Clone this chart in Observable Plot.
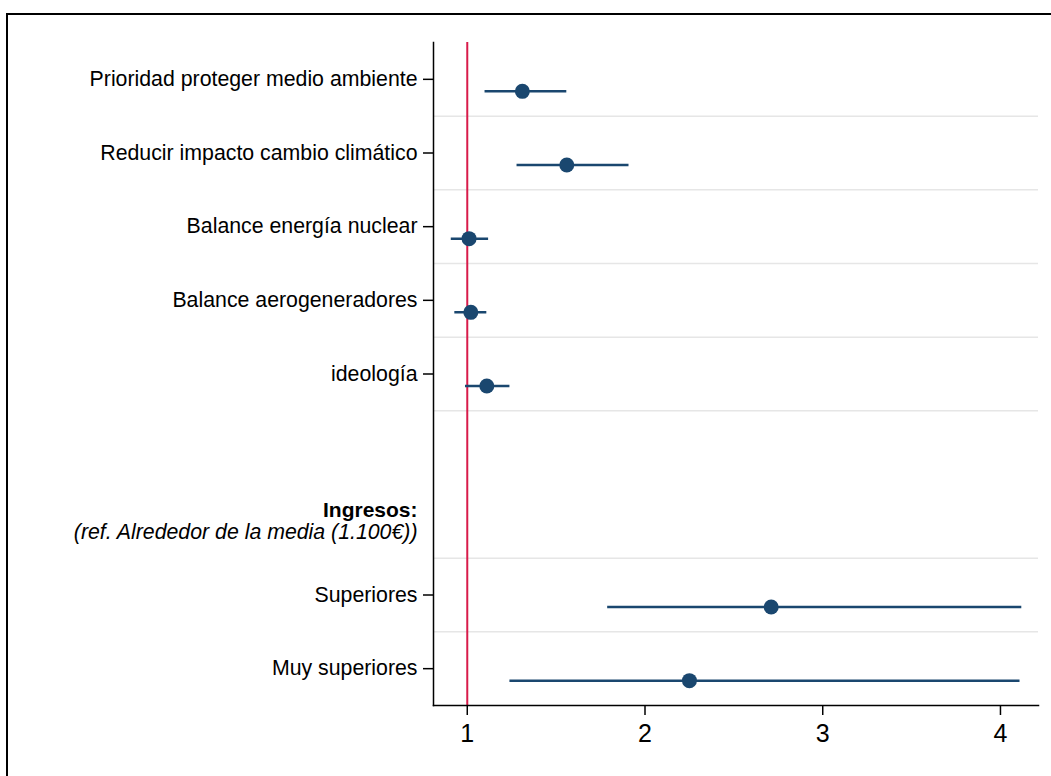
<!DOCTYPE html>
<html>
<head>
<meta charset="utf-8">
<script src="https://cdn.jsdelivr.net/npm/d3@7"></script>
<script src="https://cdn.jsdelivr.net/npm/@observablehq/plot@0.6"></script>
<style>
  html, body { margin: 0; padding: 0; background: #fff; overflow: hidden; }
  #wrap { position: relative; width: 1051px; height: 776px; }
  #frame { position: absolute; left: 6px; top: 13px; width: 2000px; height: 2000px; border: 2px solid #000; pointer-events: none; }
  #chart { position: absolute; left: 0; top: 0; }
</style>
</head>
<body>
<div id="wrap"><div id="chart"></div><div id="frame"></div></div>
<script>
// Row layout (top to bottom): 7 variables, an empty row and a header row
const variables = [
  "Prioridad proteger medio ambiente",
  "Reducir impacto cambio climático",
  "Balance energía nuclear",
  "Balance aerogeneradores",
  "ideología",
  "Superiores",
  "Muy superiores"
];
const variableRows = [0, 1, 2, 3, 4, 7, 8];
const estimates = [1.31, 1.56, 1.01, 1.02, 1.11, 2.71, 2.25];
const lower     = [1.10, 1.28, 0.91, 0.93, 0.99, 1.79, 1.24];
const upper     = [1.56, 1.91, 1.12, 1.11, 1.24, 4.12, 4.11];
const headerRow = 6;
const headerTitle = "Ingresos:";
const headerSub = "(ref. Alrededor de la media (1.100€))";
const gridAfterRows = [0, 1, 2, 3, 4, 6, 7];
const xTicks = [1, 2, 3, 4];
const refValue = 1;

const data = variables.map((v, i) => ({
  name: v, row: variableRows[i], est: estimates[i], lo: lower[i], hi: upper[i]
}));
const nameByRow = new Map(data.map(d => [d.row, d.name]));

const navy = "#1a476f";
const font = "Liberation Sans, Arial, Helvetica, sans-serif";

const chart = Plot.plot({
  width: 1051,
  height: 776,
  marginLeft: 433,
  marginRight: 13,
  marginTop: 42,
  marginBottom: 71,
  style: { fontFamily: font, color: "#000", background: "transparent" },
  x: { domain: [0.81, 4.214] },
  y: { domain: [-0.5, 8.5], reverse: true },
  marks: [
    Plot.ruleY(gridAfterRows, { y: d => d + 0.5, stroke: "#e6e6e6", strokeWidth: 1.5 }),
    Plot.ruleX([refValue], { stroke: "#d81b4a", strokeWidth: 2 }),
    Plot.ruleY(data, { y: "row", x1: "lo", x2: "hi", dy: 12, stroke: navy, strokeWidth: 2.5 }),
    Plot.dot(data, { y: "row", x: "est", dy: 12, r: 7.5, fill: navy, stroke: "none" }),
    Plot.axisY({
      ticks: variableRows, tickFormat: r => nameByRow.get(r),
      tickSize: 10, tickPadding: 6, fontSize: 21.3, label: null, stroke: "#000", strokeWidth: 1.5
    }),
    Plot.text([headerTitle], { frameAnchor: "left", y: [headerRow], dx: -16, dy: -11,
      textAnchor: "end", fontSize: 21, fontWeight: "bold", fill: "#000" }),
    Plot.text([headerSub], { frameAnchor: "left", y: [headerRow], dx: -16, dy: 11,
      textAnchor: "end", fontSize: 21.3, fontStyle: "italic", fill: "#000" }),
    Plot.axisX({ ticks: xTicks, tickFormat: d => String(d), tickSize: 10, tickPadding: 9,
      fontSize: 25, label: null, stroke: "#000", strokeWidth: 1.5 }),
    Plot.frame({ anchor: "left", stroke: "#000", strokeWidth: 1.5 }),
    Plot.frame({ anchor: "bottom", stroke: "#000", strokeWidth: 1.5 })
  ]
});
document.getElementById("chart").appendChild(chart);
</script>
</body>
</html>
